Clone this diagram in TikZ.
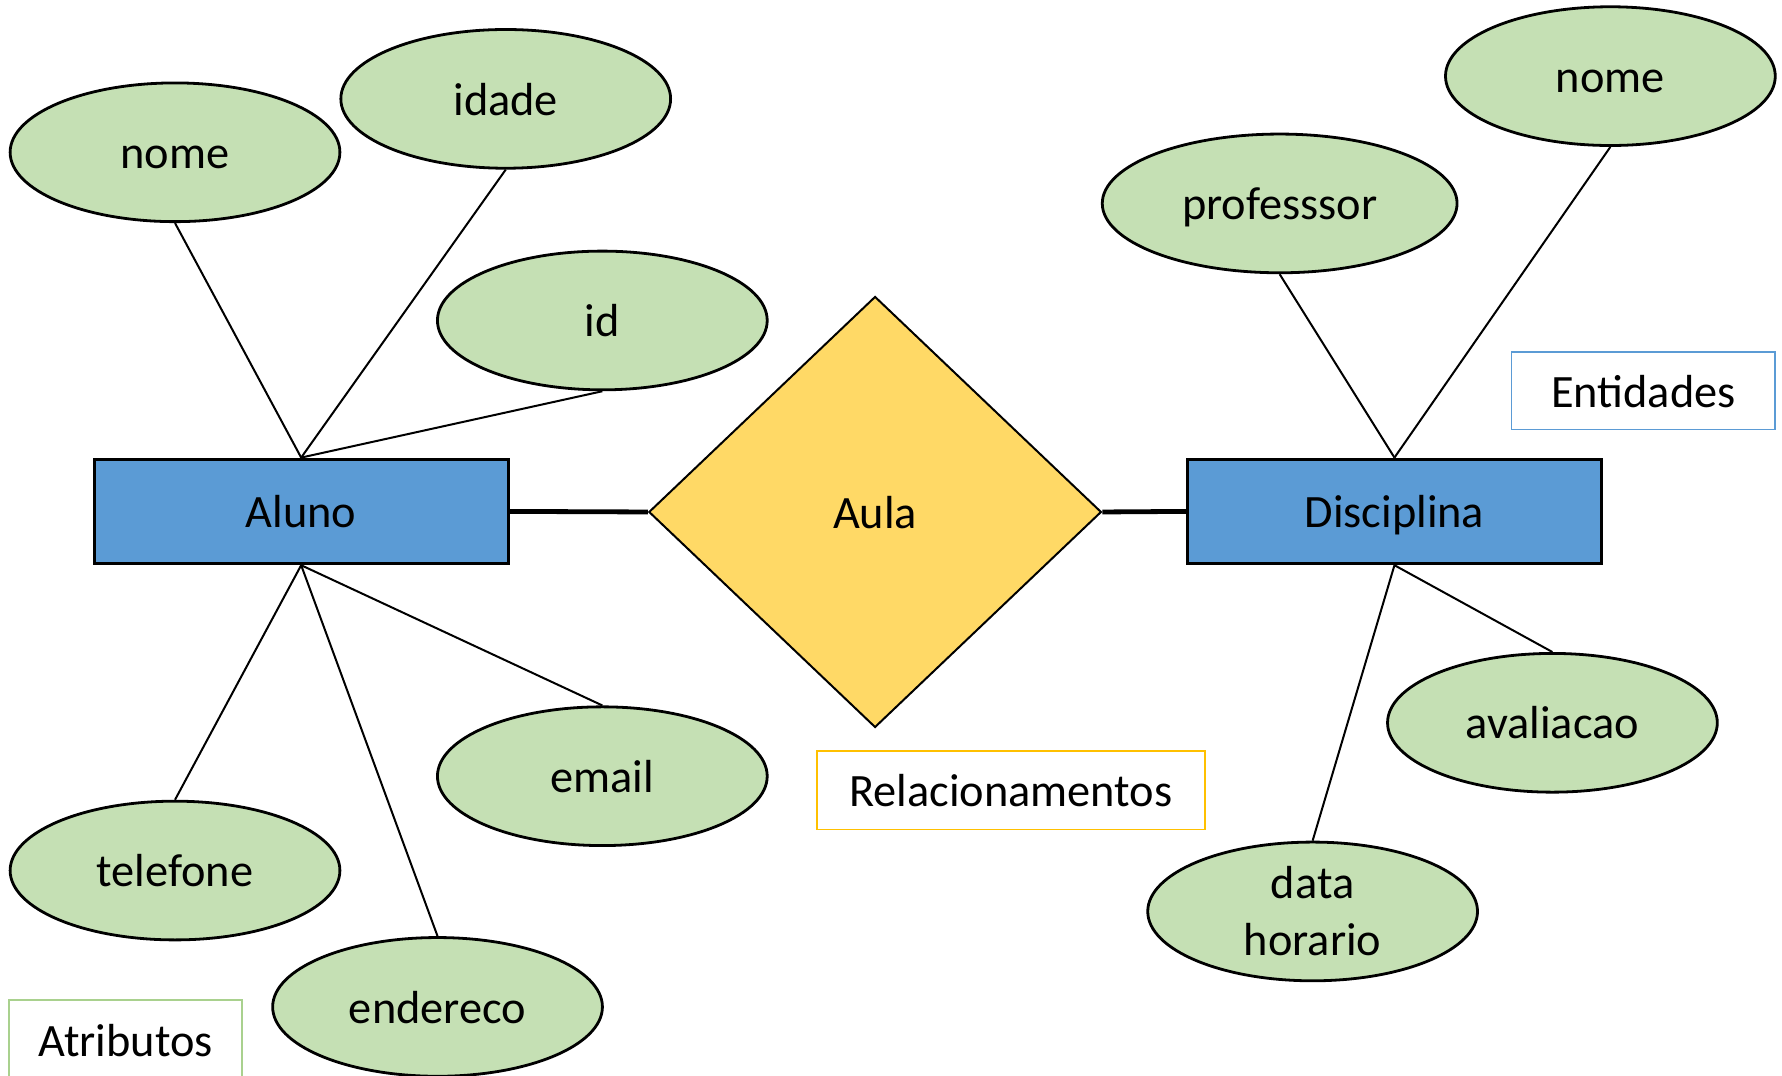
\documentclass[tikz,border=0pt]{standalone}
\usepackage{fontspec}
\setmainfont{Carlito}
\usetikzlibrary{shapes.geometric}
\definecolor{entblue}{HTML}{5B9BD5}
\definecolor{attgreen}{HTML}{C5E0B4}
\definecolor{relgold}{HTML}{FFD966}
\definecolor{relorange}{HTML}{FFC000}
\definecolor{lblgreen}{HTML}{A9D18E}
\begin{document}
\begin{tikzpicture}[x=0.01cm,y=-0.01cm,
  font=\fontsize{11.6}{14.2}\selectfont,
  fixtext/.style={text height=0.81em,text depth=0pt},
  entity/.style={draw=black,line width=0.75pt,fill=entblue,minimum width=3.64cm,minimum height=0.92cm,inner sep=0pt,fixtext},
  attr/.style={ellipse,draw=black,line width=0.7pt,fill=attgreen,minimum width=2.9cm,minimum height=1.22cm,inner sep=0pt,align=center},
  rel/.style={diamond,draw=black,line width=0.5pt,fill=relgold,minimum width=3.98cm,minimum height=3.79cm,inner sep=0pt,aspect=1.05,fixtext},
  link/.style={draw=black,line width=0.5pt},
  strong/.style={draw=black,line width=1.2pt},
  legend/.style={draw,line width=0.4pt,fill=white,inner sep=0pt,fixtext}
]
\useasboundingbox (0,0) rectangle (1568,946);
\fill[white] (0,0) rectangle (1568,946);

% entities
\node[entity] (aluno) at (265,450) {Aluno};
\node[entity] (disc) at (1227,450) {Disciplina};
% relationship
\node[rel] (aula) at (770,450.5) {Aula};

% attributes
\node[attr,fixtext] (nome1) at (154,134) {nome};
\node[attr,fixtext] (idade) at (445,87) {idade};
\node[attr,fixtext] (id) at (530,282) {id};
\node[attr,fixtext] (email) at (530,683) {email};
\node[attr,fixtext] (tel) at (154,766) {telefone};
\node[attr,fixtext] (end) at (385,886) {endereco};
\node[attr,fixtext,minimum width=3.12cm] (prof) at (1126,179) {professsor};
\node[attr,fixtext] (nome2) at (1417,67) {nome};
\node[attr,fixtext] (aval) at (1366,636) {avaliacao};
\node[attr] (data) at (1155,802) {data\\horario};

% connectors
\draw[strong] (aluno.east) -- (aula.west);
\draw[strong] (aula.east) -- (disc.west);
\draw[link] (nome1.south) -- (aluno.north);
\draw[link] (idade.south) -- (aluno.north);
\draw[link] (id.south) -- (aluno.north);
\draw[link] (email.north) -- (aluno.south);
\draw[link] (tel.north) -- (aluno.south);
\draw[link] (end.north) -- (aluno.south);
\draw[link] (prof.south) -- (disc.north);
\draw[link] (nome2.south) -- (disc.north);
\draw[link] (aval.north) -- (disc.south);
\draw[link] (data.north) -- (disc.south);

% legend labels
\node[legend,draw=entblue,minimum width=2.32cm,minimum height=0.68cm] (lent) at (1446,344) {Entidades};
\node[legend,draw=relorange,minimum width=3.41cm,minimum height=0.69cm] (lrel) at (889.5,695.5) {Relacionamentos};
\node[legend,draw=lblgreen,minimum width=2.05cm,minimum height=0.7cm] (latt) at (110.5,915) {Atributos};
\end{tikzpicture}
\end{document}
